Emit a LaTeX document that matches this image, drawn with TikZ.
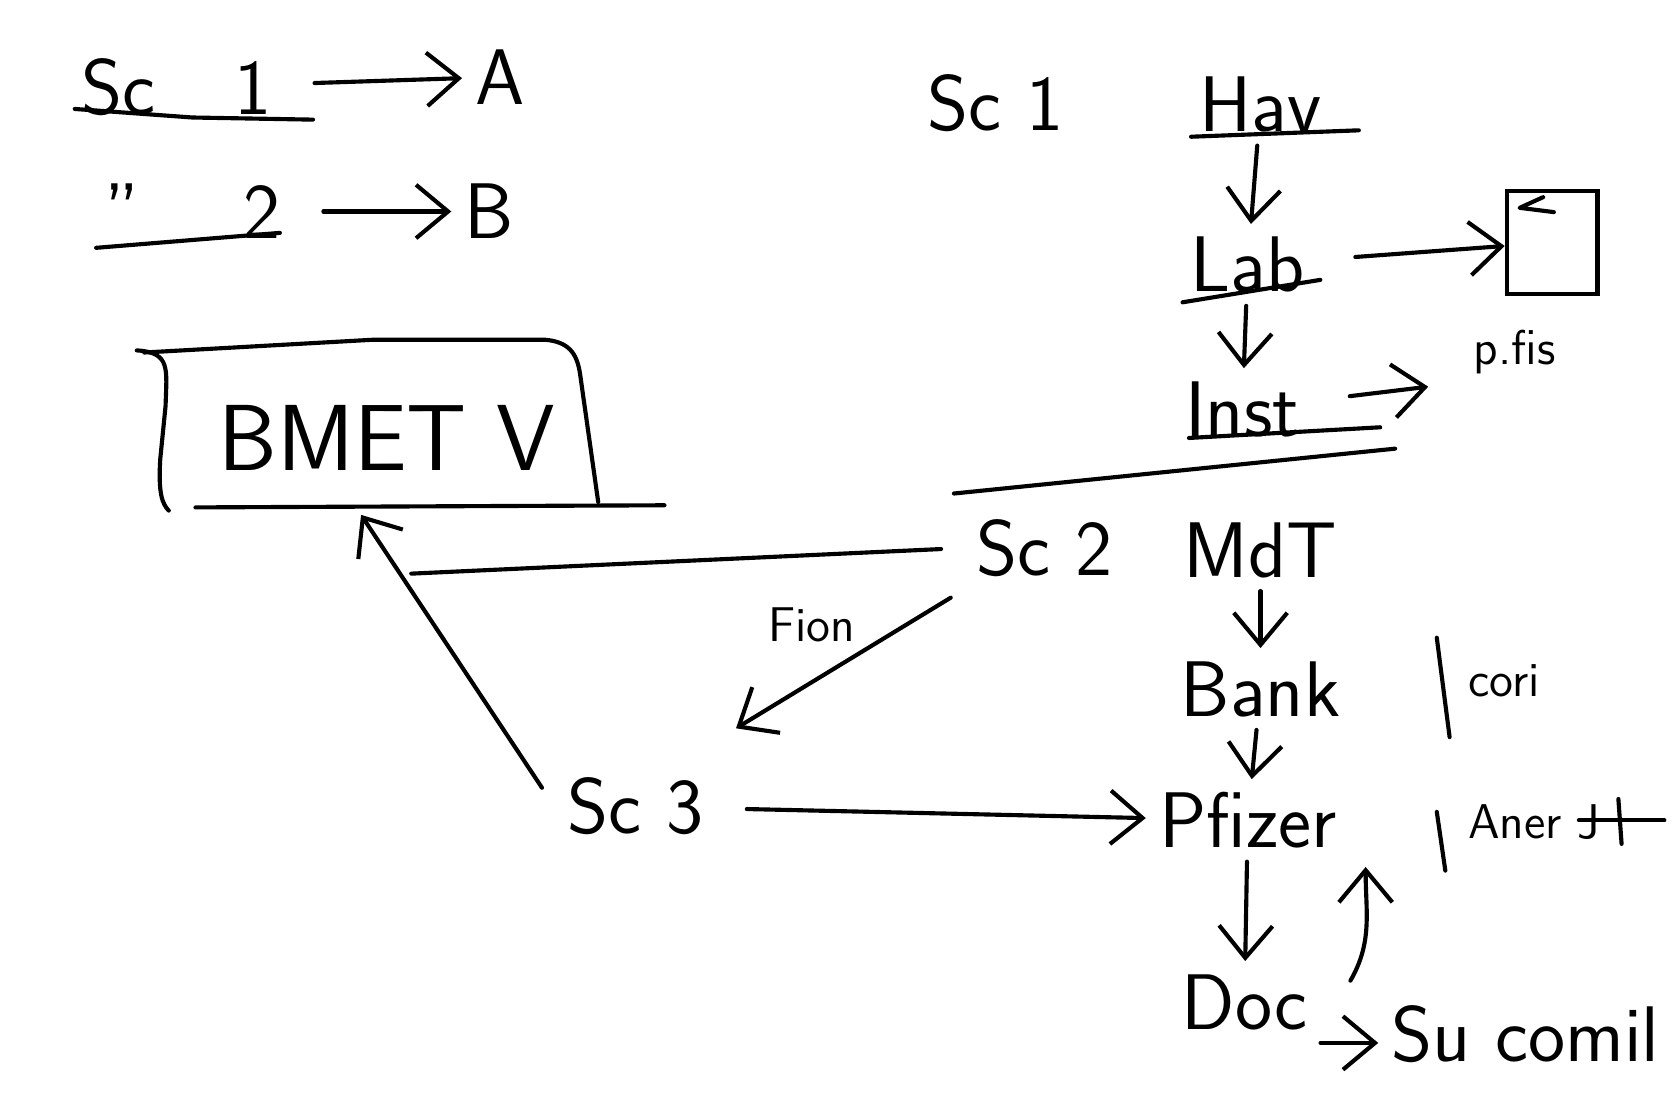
\documentclass[tikz,border=0pt]{standalone}
\usetikzlibrary{arrows.meta}
\begin{document}
\begin{tikzpicture}[x=0.1mm,y=-0.1mm]
	\tikzstyle{label_style} = [font=\sffamily\fontsize{21}{24}\selectfont]
	\tikzstyle{small_style} = [font=\sffamily\fontsize{13}{16}\selectfont]
	\tikzstyle{edge_style} = [draw=black, line width=1.1pt, line cap=round, line join=round]
	\tikzstyle{arrow_style} = [edge_style, -{Straight Barb[length=3mm,width=5mm]}]
	\useasboundingbox (0,0) rectangle (1568,1033);
	% left legend
	\node[label_style] (sc1a) at (165,82) {Sc\quad 1};
	\node[label_style] (a) at (468,72) {A};
	\node[label_style] (sc2a) at (180,198) {''\quad\ 2};
	\node[label_style] (b) at (458,198) {B};
	\draw[arrow_style, shorten <=8pt] (sc1a) -- (a);
	\draw[arrow_style, shorten <=8pt] (sc2a) -- (b);
	\draw[edge_style] (70,102) -- (180,110) -- (293,112);
	\draw[edge_style] (90,232) -- (262,218);
	% BMET box
	\node[font=\sffamily\fontsize{25}{30}\selectfont] (bmet) at (362,410) {BMET V};
	\draw[edge_style] (128,328) .. controls (160,330) and (156,345) .. (155,380) -- (150,430) .. controls (148,462) and (152,472) .. (158,478);
	\draw[edge_style] (135,330) -- (350,318) -- (510,318) .. controls (532,320) and (540,330) .. (543,350) -- (560,470);
	\draw[edge_style] (183,475) -- (622,473);
	\coordinate (bmetin) at (385,537);
	\coordinate (bmetbot) at (338,482);
	% scenario 1
	\node[label_style] (sc1b) at (932,97) {Sc 1};
	\node[label_style] (hav) at (1180,98) {Hav};
	\node[label_style] (lab) at (1168,248) {Lab};
	\node[label_style] (inst) at (1163,383) {Inst};
	\node[draw, line width=1.1pt, minimum width=8.5mm, minimum height=9.7mm] (pfile) at (1453,227) {};
	\draw[edge_style] ([shift={(36,8)}]pfile.north west) -- ([shift={(14,18)}]pfile.north west) -- ([shift={(46,22)}]pfile.north west);
	\node[small_style] (pfis) at (1418,330) {p.fis};
	\coordinate (instout) at (1337,362);
	\draw[arrow_style] (hav) -- (lab);
	\draw[arrow_style] (lab) -- (inst);
	\draw[arrow_style, shorten <=10pt] (lab) -- (pfile);
	\draw[arrow_style, shorten <=10pt] (inst) -- (instout);
	\draw[edge_style] (1115,128) -- (1272,122);
	\draw[edge_style] (1107,283) -- (1236,262);
	\draw[edge_style] (1113,410) -- (1292,400);
	\draw[edge_style] (893,462) -- (1306,420);
	% scenario 2
	\node[label_style] (sc2) at (978,513) {Sc 2};
	\node[label_style] (mdt) at (1180,515) {MdT};
	\node[label_style] (bank) at (1180,645) {Bank};
	\node[label_style] (pfizer) at (1168,768) {Pfizer};
	\node[label_style] (doc) at (1165,938) {Doc};
	\node[label_style] (sucomil) at (1428,968) {Su comil};
	\node[small_style, anchor=west] (cori) at (1362,637) {cori};
	\node[small_style, anchor=west] (aner) at (1362,770) {Aner J};
	\draw[edge_style] (1345,597) -- (1357,690);
	\draw[edge_style] (1345,760) -- (1353,815);
	\draw[edge_style] (1478,768) -- (1558,768);
	\draw[edge_style] (1515,748) -- (1518,790);
	\draw[arrow_style] (mdt) -- (bank);
	\draw[arrow_style] (bank) -- (pfizer);
	\draw[arrow_style] (pfizer) -- (doc);
	\draw[arrow_style] (doc.south east) -- (doc.south east -| sucomil.west);
	\draw[arrow_style] ([shift={(28,-20)}]doc.east) to[out=60, in=-90] ([shift={(15,5)}]pfizer.south east);
	% scenario 3
	\node[label_style] (sc3) at (595,755) {Sc 3};
	\node[small_style] (fion) at (760,585) {Fion};
	\draw[arrow_style, shorten <=4pt] (sc2.south west) -- ([shift={(18,-34)}]sc3.north east);
	\draw[edge_style, shorten <=6pt] (sc2.west) -- (bmetin);
	\draw[arrow_style, shorten <=6pt] (sc3.west) -- (bmetbot);
	\draw[arrow_style, shorten <=8pt] (sc3) -- (pfizer);
\end{tikzpicture}
\end{document}
